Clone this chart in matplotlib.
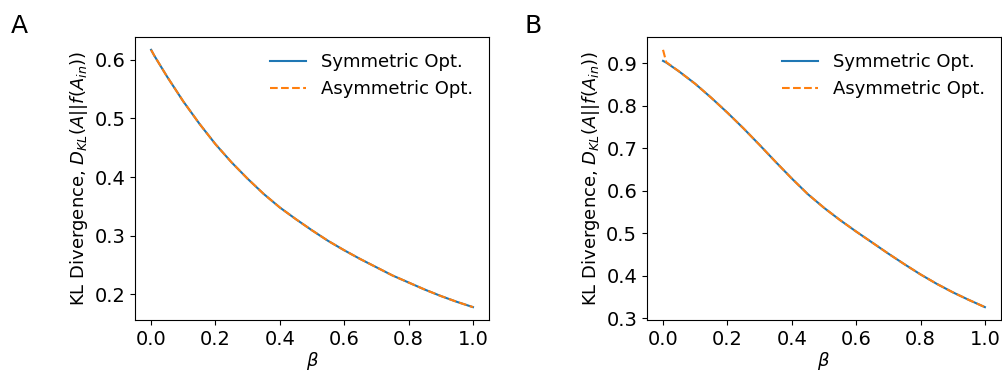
import matplotlib
matplotlib.use("Agg")
import matplotlib.pyplot as plt

# beta grid and values
beta = [0.0, 0.01, 0.05, 0.10, 0.15, 0.20, 0.25, 0.30, 0.35, 0.40, 0.45,
        0.50, 0.55, 0.60, 0.65, 0.70, 0.75, 0.80, 0.85, 0.90, 0.95, 1.0]

# panel A
sym_a = [0.617, 0.607, 0.571, 0.529, 0.491, 0.456, 0.425, 0.397, 0.371, 0.348, 0.328,
         0.309, 0.291, 0.275, 0.260, 0.246, 0.232, 0.220, 0.208, 0.197, 0.187, 0.178]
asym_a = [0.617, 0.607, 0.571, 0.529, 0.491, 0.456, 0.425, 0.397, 0.371, 0.348, 0.328,
          0.309, 0.291, 0.275, 0.260, 0.246, 0.232, 0.220, 0.208, 0.197, 0.187, 0.178]

# panel B
sym_b = [0.906, 0.902, 0.881, 0.852, 0.819, 0.784, 0.747, 0.708, 0.668, 0.629, 0.592,
         0.560, 0.531, 0.504, 0.478, 0.452, 0.427, 0.403, 0.381, 0.361, 0.343, 0.326]
asym_b = [0.932, 0.903, 0.881, 0.852, 0.819, 0.784, 0.747, 0.708, 0.668, 0.629, 0.592,
          0.560, 0.531, 0.504, 0.478, 0.452, 0.427, 0.403, 0.381, 0.361, 0.343, 0.326]

panels = [("A", sym_a, asym_a), ("B", sym_b, asym_b)]

fig = plt.figure(figsize=(10.03, 3.75), dpi=100)
lefts = [0.1346, 0.645]
letter_x = [0.011, 0.523]
fs = 13

for (letter, s, a), left, lx in zip(panels, lefts, letter_x):
    ax = fig.add_axes([left, 0.1467, 0.353, 0.7547])
    ax.plot(beta, s, color="#1f77b4", lw=1.5, label="Symmetric Opt.")
    ax.plot(beta, a, color="#ff7f0e", lw=1.5, ls="--", label="Asymmetric Opt.")
    ax.set_xlabel(r"$\beta$", fontsize=fs, labelpad=1)
    ax.set_ylabel(r"KL Divergence, $D_{KL}(A||f(A_{in}))$", fontsize=fs, labelpad=3)
    ax.tick_params(labelsize=14)
    ax.set_xticks([0.0, 0.2, 0.4, 0.6, 0.8, 1.0])
    ax.legend(frameon=False, fontsize=fs, loc="upper right")
    fig.text(lx, 0.912, letter, fontsize=18)

fig.savefig("out.png", dpi=100)
